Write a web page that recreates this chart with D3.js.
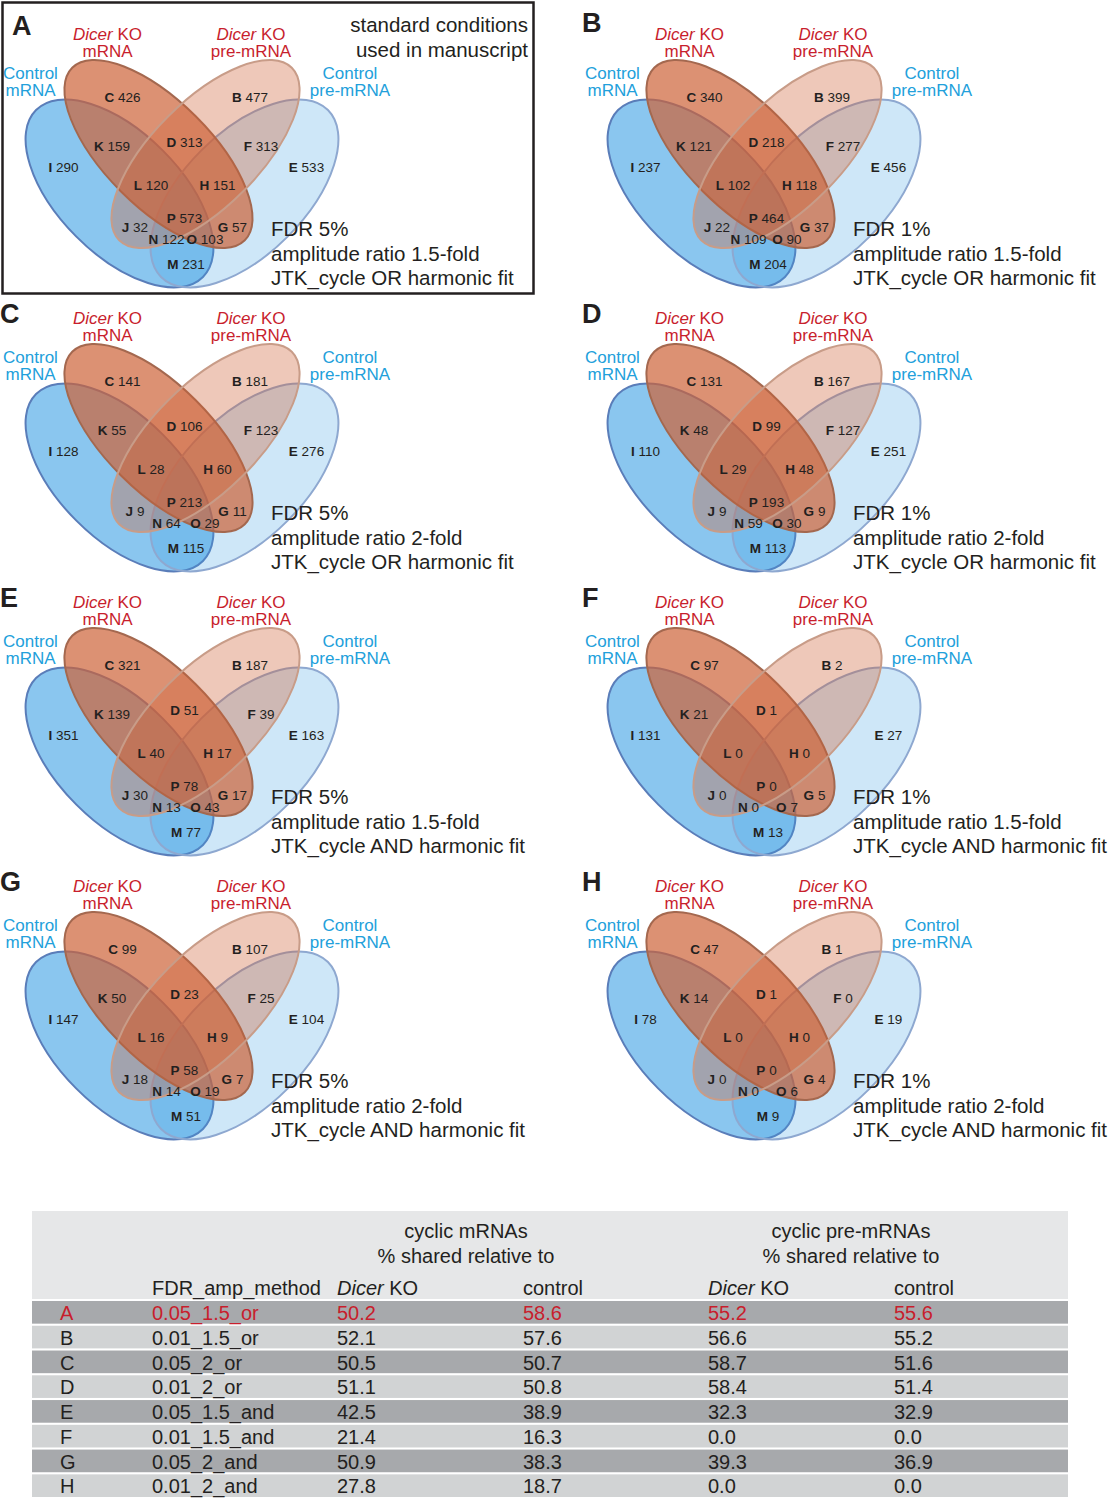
<!DOCTYPE html>
<html><head><meta charset="utf-8">
<script src="https://cdn.jsdelivr.net/npm/d3@7"></script>
<style>
body{margin:0;background:#fff}
svg{display:block}
text{font-family:"Liberation Sans",Arial,Helvetica,sans-serif;fill:#231f20}
</style>
</head><body>
<svg id="chart" width="1109" height="1500"></svg>
<script>
// ---------------- DATA ----------------
const panels = ["A","B","C","D","E","F","G","H"];
const regionKeys = ["C","B","K","D","F","I","E","L","H","P","J","G","N","O","M"];
const countsA = [426,477,159,313,313,290,533,120,151,573,32,57,122,103,231];
const countsB = [340,399,121,218,277,237,456,102,118,464,22,37,109,90,204];
const countsC = [141,181,55,106,123,128,276,28,60,213,9,11,64,29,115];
const countsD = [131,167,48,99,127,110,251,29,48,193,9,9,59,30,113];
const countsE = [321,187,139,51,39,351,163,40,17,78,30,17,13,43,77];
const countsF = [97,2,21,1,null,131,27,0,0,0,0,5,0,7,13];
const countsG = [99,107,50,23,25,147,104,16,9,58,18,7,14,19,51];
const countsH = [47,1,14,1,0,78,19,0,0,0,0,4,0,6,9];
const allCounts = [countsA,countsB,countsC,countsD,countsE,countsF,countsG,countsH];
const fdrLabels = ["FDR 5%","FDR 1%","FDR 5%","FDR 1%","FDR 5%","FDR 1%","FDR 5%","FDR 1%"];
const ampLabels = ["amplitude ratio 1.5-fold","amplitude ratio 1.5-fold","amplitude ratio 2-fold","amplitude ratio 2-fold",
                   "amplitude ratio 1.5-fold","amplitude ratio 1.5-fold","amplitude ratio 2-fold","amplitude ratio 2-fold"];
const methodLabels = ["JTK_cycle OR harmonic fit","JTK_cycle OR harmonic fit","JTK_cycle OR harmonic fit","JTK_cycle OR harmonic fit",
                      "JTK_cycle AND harmonic fit","JTK_cycle AND harmonic fit","JTK_cycle AND harmonic fit","JTK_cycle AND harmonic fit"];

const tableRows = ["A","B","C","D","E","F","G","H"];
const tableMethods = ["0.05_1.5_or","0.01_1.5_or","0.05_2_or","0.01_2_or","0.05_1.5_and","0.01_1.5_and","0.05_2_and","0.01_2_and"];
const mrnaDicer = ["50.2","52.1","50.5","51.1","42.5","21.4","50.9","27.8"];
const mrnaControl = ["58.6","57.6","50.7","50.8","38.9","16.3","38.3","18.7"];
const premDicer = ["55.2","56.6","58.7","58.4","32.3","0.0","39.3","0.0"];
const premControl = ["55.6","55.2","51.6","51.4","32.9","0.0","36.9","0.0"];

// ---------------- LAYOUT ----------------
const RED = "#c81e2d", CYAN = "#22a0db", INK = "#231f20";
const svg = d3.select("#chart");
const colX = d3.scaleOrdinal().domain([0,1]).range([0,582]);
const rowY = d3.scaleLinear().domain([0,1]).range([0,284]);

// ellipse geometry in panel pixel space (scale maps venn units -> px)
const vx = d3.scaleLinear().domain([0,1]).range([0,364]);
const vy = d3.scaleLinear().domain([0,1]).range([0,364]);
const ellipses = [
  {cx:0.3283, cy:0.5316, rx:0.3242, ry:0.1676, rot: 45, fill:"#3ca0e4", fo:0.6, stroke:"#5a7db9"},
  {cx:0.6717, cy:0.5316, rx:0.3242, ry:0.1676, rot:-45, fill:"#3ca0e4", fo:0.25, stroke:"#8ea8d0"},
  {cx:0.4354, cy:0.4231, rx:0.3352, ry:0.1456, rot: 45, fill:"#cd6237", fo:0.7, stroke:"#a4684f"},
  {cx:0.5646, cy:0.4231, rx:0.3352, ry:0.1456, rot:-45, fill:"#cd6237", fo:0.35, stroke:"#c89c88"}
];
const regionPos = {C:[122.5,97],B:[250,97],K:[112,146],D:[184.5,142],F:[261,146],I:[63.5,167],E:[306.5,167],
  L:[151,185],H:[217.5,185],P:[184.5,218],J:[135,227],G:[232.5,227],N:[166.5,239],O:[205,239],M:[186,264]};

panels.forEach((p,i)=>{
  const c = i%2, r = Math.floor(i/2);
  const g = svg.append("g").attr("transform",`translate(${colX(c)},${rowY(r)})`);
  // ellipses
  g.selectAll("ellipse").data(ellipses).join("ellipse")
    .attr("cx",d=>vx(d.cx)).attr("cy",d=>vy(d.cy))
    .attr("rx",d=>vx(d.rx)).attr("ry",d=>vy(d.ry))
    .attr("transform",d=>`rotate(${d.rot},${vx(d.cx)},${vy(d.cy)})`)
    .attr("fill",d=>d.fill).attr("fill-opacity",d=>d.fo)
    .attr("stroke",d=>d.stroke).attr("stroke-width",2);
  // region labels
  const counts = allCounts[i];
  regionKeys.forEach((k,j)=>{
    if(counts[j]===null) return;
    const t = g.append("text").attr("x",regionPos[k][0]).attr("y",regionPos[k][1]+5)
      .attr("text-anchor","middle").attr("font-size",13.5);
    t.append("tspan").attr("font-weight","bold").text(k);
    t.append("tspan").text(" "+counts[j]);
  });
  // set labels
  const setLab = (x,y1,l1,l2,col,ital)=>{
    const t1 = g.append("text").attr("x",x).attr("y",y1).attr("text-anchor","middle").attr("font-size",17).style("fill",col);
    if(ital){ t1.append("tspan").attr("font-style","italic").style("fill",col).text("Dicer"); t1.append("tspan").style("fill",col).text(" KO"); }
    else t1.text(l1);
    g.append("text").attr("x",x).attr("y",y1+17).attr("text-anchor","middle").attr("font-size",17).style("fill",col).text(l2);
  };
  setLab(107.5,40,"Dicer KO","mRNA",RED,true);
  setLab(251,40,"Dicer KO","pre-mRNA",RED,true);
  setLab(30.5,79,"Control","mRNA",CYAN,false);
  setLab(350,79,"Control","pre-mRNA",CYAN,false);
  // condition text
  [fdrLabels[i],ampLabels[i],methodLabels[i]].forEach((s,k)=>{
    g.append("text").attr("x",271).attr("y",236+k*24.5).attr("font-size",20.5).text(s);
  });
  // panel letter
  if(i===0){
    g.append("text").attr("x",12).attr("y",35).attr("font-size",27).attr("font-weight","bold").text(p);
    g.append("rect").attr("x",2.5).attr("y",2.5).attr("width",531).attr("height",291)
      .attr("fill","none").attr("stroke",INK).attr("stroke-width",2.5);
    g.append("text").attr("x",528).attr("y",32).attr("text-anchor","end").attr("font-size",20.5).text("standard conditions");
    g.append("text").attr("x",528).attr("y",57).attr("text-anchor","end").attr("font-size",20.5).text("used in manuscript");
  } else {
    g.append("text").attr("x",0).attr("y",r===0?32:39).attr("font-size",27).attr("font-weight","bold").text(p);
  }
});

// ---------------- TABLE ----------------
const tX0 = 32, tX1 = 1068;
const rowBand = d3.scaleBand().domain(tableRows).range([1300,1498]).paddingInner(0.085).paddingOuter(0.04);
const colPos = d3.scaleOrdinal().domain(["letter","method","md","mc","pd","pc"]).range([60,152,337,523,708,894]);
const tg = svg.append("g");
tg.append("rect").attr("x",tX0).attr("y",1211).attr("width",tX1-tX0).attr("height",88).attr("fill","#e6e7e8");
tg.selectAll("rect.row").data(tableRows).join("rect").attr("class","row")
  .attr("x",tX0).attr("width",tX1-tX0)
  .attr("y",d=>rowBand(d)).attr("height",rowBand.bandwidth())
  .attr("fill",(d,i)=>i%2===0?"#a7a9ac":"#d1d3d4");
const hdr = (x,y,s,anchor)=>tg.append("text").attr("x",x).attr("y",y).attr("font-size",20).attr("text-anchor",anchor||"start").text(s);
hdr(466,1238,"cyclic mRNAs","middle");
hdr(466,1263,"% shared relative to","middle");
hdr(851,1238,"cyclic pre-mRNAs","middle");
hdr(851,1263,"% shared relative to","middle");
hdr(colPos("method"),1295,"FDR_amp_method");
[["md"],["pd"]].forEach(([k])=>{
  const t = tg.append("text").attr("x",colPos(k)).attr("y",1295).attr("font-size",20);
  t.append("tspan").attr("font-style","italic").text("Dicer");
  t.append("tspan").text(" KO");
});
hdr(colPos("mc"),1295,"control");
hdr(colPos("pc"),1295,"control");
tableRows.forEach((r,i)=>{
  const y = rowBand(r)+19;
  const col = i===0?RED:INK;
  const vals = [["letter",r],["method",tableMethods[i]],["md",mrnaDicer[i]],["mc",mrnaControl[i]],["pd",premDicer[i]],["pc",premControl[i]]];
  vals.forEach(([k,v])=>{
    tg.append("text").attr("x",colPos(k)).attr("y",y).attr("font-size",20).style("fill",col).text(v);
  });
});
</script>
</body></html>
